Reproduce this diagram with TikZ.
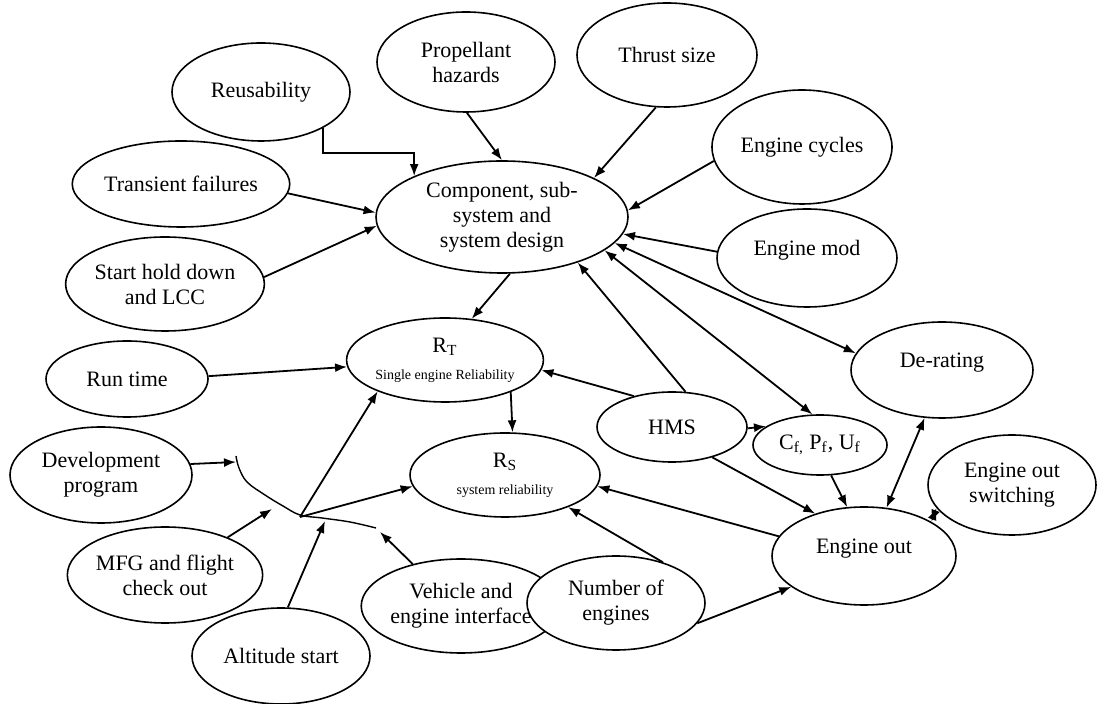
\documentclass[tikz,border=0pt]{standalone}
\usepackage{fontspec}
\setmainfont{Liberation Serif}
\usetikzlibrary{arrows.meta,shapes.geometric}
\tikzset{
  oval/.style={ellipse, draw, fill=white, line width=0.8pt, inner sep=0pt, align=center,
    font=\fontsize{11}{12.5}\selectfont},
  raised/.style={text depth=10pt},
  arr/.style={line width=0.9pt, -{Latex[length=6pt,width=4.5pt]}},
  darr/.style={line width=0.9pt, {Latex[length=6pt,width=4.5pt]}-{Latex[length=6pt,width=4.5pt]}},
  curvy/.style={line width=0.7pt}
}
\newcommand{\smalltxt}{\fontsize{7}{8}\selectfont}
\begin{document}
\begin{tikzpicture}[x=0.5pt,y=-0.5pt]
\useasboundingbox (0,0) rectangle (1097,704);
% nodes
\node[oval, minimum width=89pt, minimum height=49pt] (reus) at (261,92) {Reusability};
\node[oval, minimum width=89pt, minimum height=50pt] (prop) at (466,62) {Propellant\\hazards};
\node[oval, minimum width=90pt, minimum height=52pt] (thrust) at (667,55) {Thrust size};
\node[oval, minimum width=90pt, minimum height=57pt] (cycles) at (802,147) {Engine cycles};
\node[oval, minimum width=89pt, minimum height=43pt] (trans) at (181,184) {Transient failures};
\node[oval, minimum width=89pt, minimum height=47pt] (start) at (165,284) {Start hold down\\and LCC};
\node[oval, minimum width=126pt, minimum height=56pt] (design) at (502,217) {Component, sub-\\system and\\system design};
\node[oval, raised, minimum width=90pt, minimum height=49pt] (mod) at (807,258) {Engine mod};
\node[oval, minimum width=90pt, minimum height=42pt] (rt) at (445,360) {R\textsubscript{T}\\[1pt]{\smalltxt Single engine Reliability}};
\node[oval, minimum width=81pt, minimum height=38pt] (run) at (127,379) {Run time};
\node[oval, raised, minimum width=91pt, minimum height=48pt] (derate) at (942,370) {De-rating};
\node[oval, minimum width=75pt, minimum height=35pt] (hms) at (672,427) {HMS};
\node[oval, minimum width=67pt, minimum height=30pt] (cf) at (820,445) {C\textsubscript{f,} P\textsubscript{f}, U\textsubscript{f}};
\node[oval, minimum width=95pt, minimum height=42pt] (rs) at (505,475) {R\textsubscript{S}\\[1pt]{\smalltxt system reliability}};
\node[oval, minimum width=91pt, minimum height=48pt] (dev) at (101,475) {Development\\program};
\node[oval, minimum width=89pt, minimum height=48pt] (mfg) at (165,575) {MFG and flight\\check out};
\node[oval, minimum width=89pt, minimum height=48pt] (alt) at (281,656) {Altitude start};
\node[oval, minimum width=90pt, minimum height=47pt] (veh) at (461,606) {Vehicle and\\engine interface};
\node[oval, minimum width=89pt, minimum height=47pt] (num) at (616,603) {Number of\\engines};
\node[oval, raised, minimum width=92pt, minimum height=49pt] (eout) at (864,556) {Engine out};
\node[oval, minimum width=84pt, minimum height=50pt] (eos) at (1012,485) {Engine out\\switching};
% free ends on the hand-drawn curve
\coordinate (w1) at (236,462);
\coordinate (w2) at (272,509);
\coordinate (J) at (300,517);
\coordinate (w3) at (325,521);
\coordinate (w4) at (380,532);
\draw[curvy] plot[smooth, tension=0.6] coordinates {(236,456) (239,468) (247,482) (265,495) (283,506) (300,515) (322,518) (350,522) (376,528)};
% connectors
\draw[arr] (reus.-30) -- (reus.-30 |- 0,153) -| (design.155);
\draw[arr] (trans.-5) -- (design.178);
\draw[arr] (start.4.5) -- (design.184);
\draw[arr] (prop.-89) -- (design.90);
\draw[arr] (thrust.258) -- (design.23);
\draw[arr] (cycles.189.5) -- (design.3);
\draw[arr] (mod.176) -- (design.-8);
\draw[darr] (design.-13.6) -- (derate.169);
\draw[darr] (design.-18) -- (cf.104.5);
\draw[arr] (hms.69) -- (design.-31);
\draw[arr] (design.-82) -- (rt.57);
\draw[arr] (run.2) -- (rt.184.5);
\draw[arr] (hms.141) -- (rt.-6);
\draw[arr] (rt.-26) -- (rs.80.5);
\draw[arr] (hms.-1.5) -- (cf.161);
\draw[arr] (hms.-37) -- (eout.139);
\draw[arr] (cf.-70) -- (eout.109.5);
\draw[darr] (derate.250.5) -- (eout.65);
\draw[darr] (eos.197) -- (eout.27.6);
\draw[arr] (eout.167.5) -- (rs.-7);
\draw[arr] (num.41) -- (rs.-27);
\draw[arr] (num.-14) -- (eout.203);
\draw[arr] (dev.7.5) -- (w1);
\draw[arr] (mfg.31) -- (w2);
\draw[arr] (alt.82.5) -- (w3);
\draw[arr] (veh.139) -- (w4);
\draw[arr] (J) -- (rt.205);
\draw[arr] (J) -- (rs.187);
\end{tikzpicture}
\end{document}
